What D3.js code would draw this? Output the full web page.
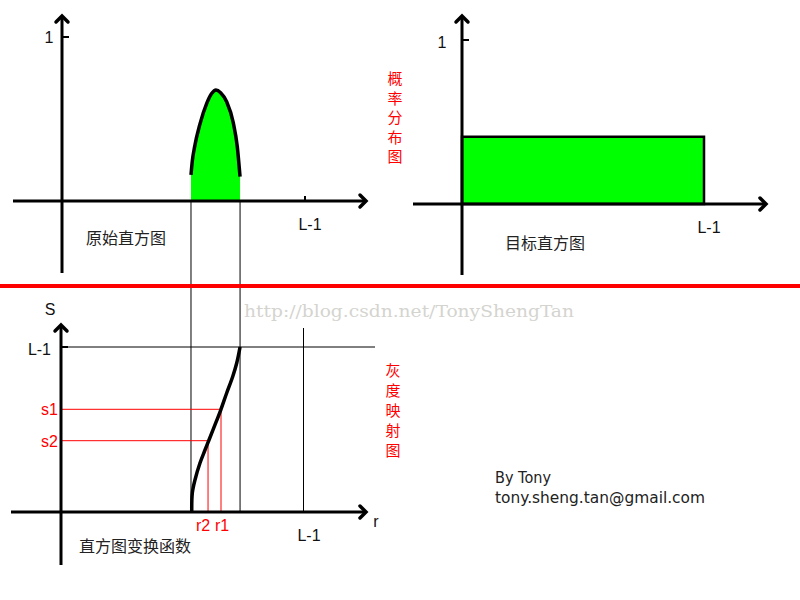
<!DOCTYPE html>
<html>
<head>
<meta charset="utf-8">
<script src="https://cdn.jsdelivr.net/npm/d3@7"></script>
<style>
  html, body { margin: 0; padding: 0; background: #fff; }
  svg { display: block; }
  text { font-family: "Liberation Sans", Arial, sans-serif; }
  text.cjk { font-family: "Noto Sans CJK SC", sans-serif; }
  text.wm { font-family: "DejaVu Serif", "Liberation Serif", serif; }
  text.credit { font-family: "DejaVu Sans", sans-serif; }
</style>
</head>
<body>
<svg id="chart" width="800" height="600"></svg>
<script>
// ---------- data ----------
const grayMax = 255;                       // L-1
// original histogram (probability vs gray level r)
const bellR = [136.2, 137.5, 140.0, 145.7, 152.8, 158.0, 162.6, 167.5, 173.9, 180.9, 185.1, 188.0];
const bellP = [0.159, 0.24, 0.33, 0.47, 0.595, 0.655, 0.677, 0.66, 0.605, 0.476, 0.331, 0.148];
// target (uniform) histogram
const targetR = [0, 255];
const targetP = 0.41;
// transform function s = T(r)
const curveR = [137.0, 137.6, 140.4, 145.7, 151.0, 155.2, 161.5, 167.6, 173.9, 180.2, 184.5, 188.0];
const curveS = [0, 29.4, 49.5, 75.7, 95.8, 111.3, 134.5, 157.6, 183.9, 209.1, 230.3, 255];
// sample mapped points
const pointR = [167.9, 154.2];
const pointS = [158.7, 110.2];
const pointRLabels = ["r1", "r2"];
const pointSLabels = ["s1", "s2"];
// texts
const titleOrig = "原始直方图";
const titleTarget = "目标直方图";
const titleTransform = "直方图变换函数";
const sideTop = "概率分布图";
const sideBottom = "灰度映射图";
const tickOne = "1";
const tickMax = "L-1";
const watermark = "http://blog.csdn.net/TonyShengTan";
const credits = ["By Tony", "tony.sheng.tan@gmail.com"];

// ---------- scales ----------
const xL = d3.scaleLinear().domain([0, grayMax]).range([62, 303.5]);   // left panels (shared)
const yTL = d3.scaleLinear().domain([0, 1]).range([201, 37]);
const xTR = d3.scaleLinear().domain([0, grayMax]).range([462, 704]);
const yTR = d3.scaleLinear().domain([0, 1]).range([204, 40]);
const yB = d3.scaleLinear().domain([0, grayMax]).range([512, 347]);

const svg = d3.select("#chart");

function line(x1, y1, x2, y2, w, c) {
  return svg.append("line").attr("x1", x1).attr("y1", y1).attr("x2", x2).attr("y2", y2)
    .attr("stroke", c || "#000").attr("stroke-width", w || 1);
}
function chevron(x, y, dir) {
  const a = 6;
  let pts;
  if (dir === "up") pts = [[x - a, y + a], [x, y], [x + a, y + a]];
  else pts = [[x - a, y - a], [x, y], [x - a, y + a]];
  svg.append("path").attr("d", d3.line()(pts)).attr("fill", "none")
    .attr("stroke", "#000").attr("stroke-width", 3.5).attr("stroke-linecap", "round");
}
function label(x, y, t, opts) {
  opts = opts || {};
  return svg.append("text").attr("x", x).attr("y", y).text(t)
    .attr("text-anchor", opts.anchor || "middle")
    .attr("font-size", opts.size || 16)
    .attr("fill", opts.fill || "#111")
    .attr("class", opts.cls || null);
}

// ---------- top-left: original histogram ----------
const bell = bellR.map((r, i) => [r, bellP[i]]);
const area = d3.area().x(d => xL(d[0])).y0(yTL(0)).y1(d => yTL(d[1])).curve(d3.curveMonotoneX);
svg.append("path").datum(bell).attr("d", area).attr("fill", "#00ff00");
// connector lines from bell edges down to transform axis
[bellR[0], bellR[bellR.length - 1]].forEach(r => line(xL(r), yTL(0), xL(r), yB(0), 1));
svg.append("path").datum(bell)
  .attr("d", d3.line().x(d => xL(d[0])).y(d => yTL(d[1])).curve(d3.curveMonotoneX))
  .attr("fill", "none").attr("stroke", "#000").attr("stroke-width", 3.5);

line(13, yTL(0), 365, yTL(0), 3);
chevron(366, yTL(0), "right");
line(62, 273, 62, 17, 3);
chevron(62, 16, "up");
line(62, yTL(1), 69, yTL(1), 2);
label(49, yTL(1) + 6, tickOne);
line(xL(grayMax) + 1.5, yTL(0) - 5, xL(grayMax) + 1.5, yTL(0), 2);
label(310, 230, tickMax);
label(126, 244, titleOrig, { cls: "cjk", size: 16, fill: "#222" });

// ---------- top-right: target histogram ----------
svg.append("rect")
  .attr("x", xTR(targetR[0])).attr("y", yTR(targetP))
  .attr("width", xTR(targetR[1]) - xTR(targetR[0])).attr("height", yTR(0) - yTR(targetP))
  .attr("fill", "#00ff00").attr("stroke", "#000").attr("stroke-width", 2.5);
line(413, yTR(0), 765, yTR(0), 3);
chevron(766, yTR(0), "right");
line(462, 275, 462, 17, 3);
chevron(462, 16, "up");
line(462, yTR(1), 469, yTR(1), 2);
label(442, yTR(1) + 8, tickOne);
label(709, 233, tickMax);
label(545, 249, titleTarget, { cls: "cjk", size: 16, fill: "#222" });

// side red labels
sideTop.split("").forEach((ch, i) => label(395, 84 + i * 19.6, ch, { cls: "cjk", size: 15, fill: "#ff0000" }));
sideBottom.split("").forEach((ch, i) => label(393, 376 + i * 20, ch, { cls: "cjk", size: 15, fill: "#ff0000" }));

// red separator
line(0, 286, 800, 286, 4, "#ff0000");

// watermark
svg.append("text").attr("x", 244).attr("y", 317).text(watermark)
  .attr("class", "wm")
  .attr("font-size", 17).attr("fill", "#d4d4cf")
  .attr("textLength", 330).attr("lengthAdjust", "spacingAndGlyphs");

// ---------- bottom: transform function ----------
line(62, yB(grayMax), 375, yB(grayMax), 1);
line(61, yB(grayMax), 68, yB(grayMax), 2);
line(xL(grayMax), 328, xL(grayMax), yB(0), 1);

// sample lines
pointR.forEach((r, i) => {
  line(62, yB(pointS[i]), xL(r), yB(pointS[i]), 1, "#ff0000");
  line(xL(r), yB(pointS[i]), xL(r), yB(0), 1, "#ff0000");
});

const tcurve = curveR.map((r, i) => [r, curveS[i]]);
svg.append("path").datum(tcurve)
  .attr("d", d3.line().x(d => xL(d[0])).y(d => yB(d[1])).curve(d3.curveCatmullRom))
  .attr("fill", "none").attr("stroke", "#000").attr("stroke-width", 3.5);

line(11, yB(0), 365, yB(0), 3);
chevron(366, yB(0), "right");
line(61, 565, 61, 326, 3);
chevron(61, 325, "up");

label(50, 315, "S");
label(376, 527, "r");
label(51, 355, tickMax, { anchor: "end" });
label(309, 541, tickMax);
pointSLabels.forEach((t, i) => label(58, yB(pointS[i]) + 6, t, { anchor: "end", fill: "#ff0000" }));
pointRLabels.forEach((t, i) => label(xL(pointR[i]) + (i === 0 ? 1 : -5), 531, t, { fill: "#ff0000" }));
label(135, 552, titleTransform, { cls: "cjk", size: 16, fill: "#222" });

// credits
credits.forEach((t, i) => {
  const el = label(495, 483 + i * 20, t, { anchor: "start", size: 15, fill: "#222", cls: "credit" });
  el.attr("textLength", i === 0 ? 56 : 210).attr("lengthAdjust", "spacingAndGlyphs");
});
</script>
</body>
</html>
